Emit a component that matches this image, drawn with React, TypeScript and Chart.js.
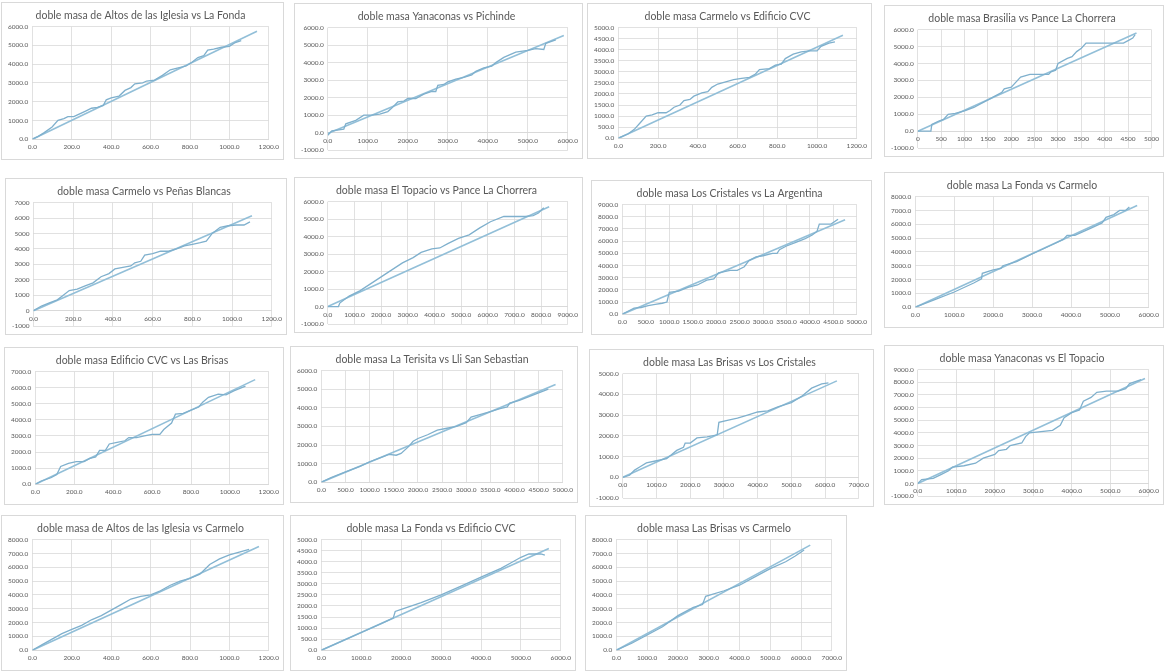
import React, { useEffect, useRef } from "react";
import { Chart, registerables } from "chart.js";

Chart.register(...registerables);

type Pt = [number, number];

// Cumulative rainfall pairs (x: station A, y: station B) and the reference line for each pair
const altosFonda: Pt[] = [[0,0],[30,150],[60,350],[100,650],[130,1000],[160,1100],[180,1200],[210,1200],[240,1350],[270,1500],[300,1650],[330,1700],[360,1800],[375,2100],[400,2200],[440,2300],[470,2600],[500,2750],[520,2950],[560,3000],[580,3100],[620,3150],[660,3400],[700,3700],[740,3800],[780,3900],[810,4100],[840,4350],[870,4450],[890,4750],[920,4800],[960,4900],[1000,4950],[1030,5150],[1060,5250]];
const altosFondaRef: Pt[] = [[0,0],[1140,5750]];

const yanaPichinde: Pt[] = [[0,-150],[100,100],[400,200],[450,500],[700,700],[900,1000],[1100,1000],[1300,1050],[1500,1200],[1600,1400],[1750,1750],[1900,1800],[2000,1950],[2200,1950],[2400,2200],[2600,2350],[2700,2350],[2750,2700],[2900,2750],[3000,2900],[3200,3050],[3400,3150],[3600,3300],[3700,3500],[3900,3700],[4100,3800],[4200,4000],[4400,4300],[4600,4500],[4700,4600],[5000,4700],[5200,4800],[5400,4750],[5450,5100],[5700,5300]];
const yanaPichindeRef: Pt[] = [[0,-50],[5900,5550]];

const carmeloCvc: Pt[] = [[0,0],[50,200],[80,400],[110,700],[140,1000],[170,1050],[200,1150],[240,1150],[260,1250],[280,1400],[310,1500],[330,1700],[360,1750],[380,1900],[420,2050],[450,2100],[470,2300],[500,2450],[540,2550],[580,2650],[620,2700],[660,2750],[690,2900],[710,3100],[760,3150],[790,3300],[820,3350],[840,3600],[880,3800],[920,3900],[960,3950],[1000,3950],[1020,4150],[1060,4300],[1090,4350]];
const carmeloCvcRef: Pt[] = [[0,0],[1130,4650]];

const brasiliaPance: Pt[] = [[0,0],[280,0],[300,400],[450,600],[550,700],[650,1000],[800,1050],[1000,1200],[1200,1400],[1400,1700],[1600,2000],[1800,2300],[1850,2500],[2000,2600],[2100,2900],[2200,3200],[2400,3350],[2600,3350],[2800,3350],[2850,3500],[2950,3600],[3000,4000],[3200,4300],[3300,4400],[3400,4700],[3500,4900],[3600,5200],[3800,5200],[4000,5200],[4200,5200],[4400,5200],[4500,5350],[4600,5500],[4650,5700]];
const brasiliaPanceRef: Pt[] = [[0,0],[4680,5800]];

const carmeloPenas: Pt[] = [[0,0],[40,300],[80,500],[120,700],[150,1000],[180,1300],[220,1400],[260,1600],[300,1800],[340,2200],[380,2400],[410,2700],[450,2800],[490,2900],[510,3100],[540,3200],[560,3600],[600,3700],[640,3850],[680,3850],[720,4000],[760,4200],[800,4300],[840,4400],[870,4500],[900,5000],[940,5400],[980,5500],[1020,5550],[1060,5550],[1090,5750]];
const carmeloPenasRef: Pt[] = [[0,0],[1100,6150]];

const topacioPance: Pt[] = [[0,0],[400,0],[450,200],[800,600],[1200,900],[1600,1300],[2000,1700],[2400,2100],[2800,2500],[3200,2800],[3500,3100],[3900,3300],[4200,3350],[4500,3600],[4900,3900],[5300,4100],[5700,4500],[6100,4850],[6600,5150],[7000,5150],[7400,5150],[7700,5200],[7900,5350],[8100,5650]];
const topacioPanceRef: Pt[] = [[0,0],[8300,5700]];

const cristalesArgentina: Pt[] = [[0,0],[150,300],[250,500],[400,550],[550,700],[700,800],[850,900],[950,1000],[1000,1800],[1200,1900],[1400,2200],[1600,2400],[1800,2800],[1950,2900],[2050,3400],[2300,3600],[2450,3600],[2600,3900],[2700,4400],[2850,4700],[3000,4800],[3200,5000],[3300,5000],[3350,5300],[3500,5600],[3700,5900],[3900,6200],[4050,6500],[4150,6800],[4200,7400],[4450,7400],[4600,7800]];
const cristalesArgentinaRef: Pt[] = [[0,0],[4750,7750]];

const fondaCarmelo: Pt[] = [[0,0],[500,550],[1000,1100],[1500,1750],[1700,2050],[1720,2450],[2000,2700],[2200,2800],[2250,3000],[2600,3300],[3000,3850],[3500,4500],[3800,4900],[3900,5200],[4100,5200],[4500,5700],[4800,6100],[4900,6500],[5100,6700],[5250,7000],[5400,7000],[5500,7250]];
const fondaCarmeloRef: Pt[] = [[0,0],[5700,7350]];

const cvcBrisas: Pt[] = [[0,0],[30,200],[80,400],[110,600],[130,1100],[170,1300],[210,1400],[250,1400],[280,1600],[310,1700],[330,2100],[360,2100],[380,2500],[420,2600],[460,2700],[480,2900],[520,2900],[560,3000],[600,3100],[640,3100],[660,3400],[700,3800],[720,4350],[760,4400],[800,4600],[840,4800],[860,5100],[890,5400],[940,5600],[980,5550],[1020,5800],[1080,6100]];
const cvcBrisasRef: Pt[] = [[0,0],[1130,6500]];

const terisitaSebastian: Pt[] = [[0,0],[200,250],[500,550],[800,850],[1000,1100],[1200,1300],[1400,1500],[1550,1450],[1650,1550],[1800,1900],[1900,2200],[2000,2350],[2200,2550],[2400,2800],[2600,2900],[2800,3000],[3000,3200],[3100,3500],[3300,3650],[3500,3800],[3700,3950],[3850,4050],[3900,4250],[4100,4400],[4300,4600],[4500,4800],[4700,5000]];
const terisitaSebastianRef: Pt[] = [[0,0],[4850,5250]];

const brisasCristales: Pt[] = [[0,0],[200,100],[350,350],[500,500],[700,700],[1000,800],[1300,900],[1600,1300],[1800,1450],[1850,1650],[2000,1650],[2200,1900],[2500,1950],[2800,2050],[2850,2650],[3100,2750],[3400,2850],[3700,3000],[4000,3150],[4300,3200],[4600,3400],[5000,3600],[5300,3900],[5600,4300],[5900,4500],[6100,4550]];
const brisasCristalesRef: Pt[] = [[0,0],[6350,4650]];

const yanaTopacio: Pt[] = [[0,0],[100,300],[400,400],[600,700],[800,1000],[900,1300],[1200,1400],[1500,1600],[1700,2000],[2000,2300],[2100,2600],[2300,2700],[2400,3000],[2700,3200],[2800,3700],[2900,4000],[3200,4100],[3500,4200],[3700,4600],[3800,5200],[4000,5600],[4200,5800],[4300,6500],[4500,6800],[4650,7200],[4900,7300],[5200,7300],[5400,7500],[5500,7900],[5800,8200]];
const yanaTopacioRef: Pt[] = [[0,0],[5900,8300]];

const altosCarmelo: Pt[] = [[0,0],[50,400],[100,800],[150,1200],[200,1500],[250,1800],[300,2200],[350,2500],[400,2900],[450,3300],[500,3700],[550,3900],[600,4000],[650,4300],[700,4700],[750,5000],[800,5200],[850,5500],[900,6200],[950,6600],[1000,6900],[1050,7100],[1100,7300]];
const altosCarmeloRef: Pt[] = [[0,0],[1150,7500]];

const fondaCvc: Pt[] = [[0,0],[500,400],[1000,800],[1500,1200],[1800,1450],[1850,1750],[2000,1850],[2500,2150],[3000,2500],[3500,2900],[4000,3300],[4500,3700],[4800,4000],[5000,4200],[5200,4350],[5500,4350],[5600,4300]];
const fondaCvcRef: Pt[] = [[0,0],[5700,4600]];

const brisasCarmelo: Pt[] = [[0,0],[500,500],[1000,1100],[1500,1700],[2000,2500],[2500,3100],[2800,3300],[2900,3900],[3500,4300],[4000,4700],[4500,5300],[5000,5900],[5500,6400],[5800,6800],[6100,7250]];
const brisasCarmeloRef: Pt[] = [[0,0],[6300,7600]];

interface Panel {
  title: string;
  curve: Pt[];
  ref: Pt[];
  xMax: number; xStep: number; xDec: number;
  yMin: number; yMax: number; yStep: number; yDec: number;
  box: [number, number, number, number];
}

const panels: Panel[] = [
  { title: "doble masa de Altos de las Iglesia vs La Fonda", curve: altosFonda, ref: altosFondaRef, xMax: 1200, xStep: 200, xDec: 1, yMin: 0, yMax: 6000, yStep: 1000, yDec: 1, box: [1, 2, 283, 158] },
  { title: "doble masa Yanaconas vs Pichinde", curve: yanaPichinde, ref: yanaPichindeRef, xMax: 6000, xStep: 1000, xDec: 1, yMin: -1000, yMax: 6000, yStep: 1000, yDec: 1, box: [294, 3, 289, 156] },
  { title: "doble masa Carmelo vs Edificio CVC", curve: carmeloCvc, ref: carmeloCvcRef, xMax: 1200, xStep: 200, xDec: 1, yMin: 0, yMax: 5000, yStep: 500, yDec: 1, box: [587, 3, 285, 156] },
  { title: "doble masa Brasilia vs Pance La Chorrera", curve: brasiliaPance, ref: brasiliaPanceRef, xMax: 5000, xStep: 500, xDec: 0, yMin: -1000, yMax: 6000, yStep: 1000, yDec: 1, box: [884, 5, 280, 152] },
  { title: "doble masa Carmelo vs Peñas Blancas", curve: carmeloPenas, ref: carmeloPenasRef, xMax: 1200, xStep: 200, xDec: 1, yMin: -1000, yMax: 7000, yStep: 1000, yDec: 0, box: [5, 178, 282, 157] },
  { title: "doble masa El Topacio vs Pance La Chorrera", curve: topacioPance, ref: topacioPanceRef, xMax: 9000, xStep: 1000, xDec: 1, yMin: -1000, yMax: 6000, yStep: 1000, yDec: 1, box: [294, 177, 289, 156] },
  { title: "doble masa Los Cristales vs La Argentina", curve: cristalesArgentina, ref: cristalesArgentinaRef, xMax: 5000, xStep: 500, xDec: 1, yMin: 0, yMax: 9000, yStep: 1000, yDec: 1, box: [591, 180, 281, 155] },
  { title: "doble masa La Fonda vs Carmelo", curve: fondaCarmelo, ref: fondaCarmeloRef, xMax: 6000, xStep: 1000, xDec: 1, yMin: 0, yMax: 8000, yStep: 1000, yDec: 1, box: [884, 172, 280, 156] },
  { title: "doble masa Edificio CVC vs Las Brisas", curve: cvcBrisas, ref: cvcBrisasRef, xMax: 1200, xStep: 200, xDec: 1, yMin: 0, yMax: 7000, yStep: 1000, yDec: 1, box: [4, 347, 280, 158] },
  { title: "doble masa La Terisita vs Lli San Sebastian", curve: terisitaSebastian, ref: terisitaSebastianRef, xMax: 5000, xStep: 500, xDec: 1, yMin: 0, yMax: 6000, yStep: 1000, yDec: 1, box: [290, 346, 288, 157] },
  { title: "doble masa Las Brisas vs Los Cristales", curve: brisasCristales, ref: brisasCristalesRef, xMax: 7000, xStep: 1000, xDec: 1, yMin: -1000, yMax: 5000, yStep: 1000, yDec: 1, box: [589, 349, 285, 158] },
  { title: "doble masa Yanaconas vs El Topacio", curve: yanaTopacio, ref: yanaTopacioRef, xMax: 6000, xStep: 1000, xDec: 1, yMin: -1000, yMax: 9000, yStep: 1000, yDec: 1, box: [884, 345, 280, 160] },
  { title: "doble masa de Altos de las Iglesia vs Carmelo", curve: altosCarmelo, ref: altosCarmeloRef, xMax: 1200, xStep: 200, xDec: 1, yMin: 0, yMax: 8000, yStep: 1000, yDec: 1, box: [1, 515, 283, 156] },
  { title: "doble masa La Fonda vs Edificio CVC", curve: fondaCvc, ref: fondaCvcRef, xMax: 6000, xStep: 1000, xDec: 1, yMin: 0, yMax: 5000, yStep: 500, yDec: 1, box: [290, 515, 286, 156] },
  { title: "doble masa Las Brisas vs Carmelo", curve: brisasCarmelo, ref: brisasCarmeloRef, xMax: 7000, xStep: 1000, xDec: 1, yMin: 0, yMax: 8000, yStep: 1000, yDec: 1, box: [585, 515, 262, 156] },
];

const TEXT = "#595959";
const GRID = "#d9d9d9";
const FONT = "Lato, 'Open Sans', sans-serif";

function MiniChart({ panel }: { panel: Panel }) {
  const canvasRef = useRef<HTMLCanvasElement>(null);
  const [left, top, width, height] = panel.box;

  useEffect(() => {
    const canvas = canvasRef.current;
    if (!canvas) return;
    const toXY = (pts: Pt[]) => pts.map(([x, y]) => ({ x, y }));
    const chart = new Chart(canvas, {
      type: "line",
      data: {
        datasets: [
          {
            data: toXY(panel.curve),
            borderColor: "#7fb0cd",
            borderWidth: 1.3,
            pointRadius: 0,
            tension: 0,
            fill: false,
          },
          {
            data: toXY(panel.ref),
            borderColor: "#92bfd8",
            borderWidth: 1.6,
            pointRadius: 0,
            tension: 0,
            fill: false,
          },
        ],
      },
      options: {
        responsive: false,
        animation: false,
        layout: { padding: { left: 2, right: 6, top: 0, bottom: 4 } },
        plugins: {
          legend: { display: false },
          tooltip: { enabled: false },
          title: {
            display: true,
            text: panel.title,
            color: TEXT,
            font: { family: FONT, size: 10.5, weight: "normal" },
            padding: { top: 6, bottom: 5 },
          },
        },
        scales: {
          x: {
            type: "linear",
            position: panel.yMin < 0 ? ({ y: 0 } as any) : "bottom",
            min: 0,
            max: panel.xMax,
            grid: { color: GRID, lineWidth: 0.8, drawTicks: false },
            border: { color: GRID },
            ticks: {
              stepSize: panel.xStep,
              autoSkip: false,
              maxRotation: 0,
              padding: 4,
              color: TEXT,
              font: { family: FONT, size: 6.5 },
              callback: (v: any) => Number(v).toFixed(panel.xDec),
            },
          },
          y: {
            type: "linear",
            min: panel.yMin,
            max: panel.yMax,
            grid: { color: GRID, lineWidth: 0.8, drawTicks: false },
            border: { display: false },
            ticks: {
              stepSize: panel.yStep,
              autoSkip: false,
              padding: 4,
              color: TEXT,
              font: { family: FONT, size: 6.5 },
              callback: (v: any) => Number(v).toFixed(panel.yDec),
            },
          },
        },
      },
    });
    return () => chart.destroy();
  }, [panel]);

  return (
    <div
      style={{
        position: "absolute",
        left,
        top,
        width,
        height,
        boxSizing: "border-box",
        border: "1px solid #d9d9d9",
        background: "#ffffff",
      }}
    >
      <canvas ref={canvasRef} width={width - 2} height={height - 2} style={{ display: "block" }} />
    </div>
  );
}

export default function App() {
  return (
    <div
      style={{
        position: "fixed",
        left: 0,
        top: 0,
        width: 1164,
        height: 671,
        background: "#ffffff",
        overflow: "hidden",
      }}
    >
      {panels.map((p) => (
        <MiniChart key={p.title} panel={p} />
      ))}
    </div>
  );
}
